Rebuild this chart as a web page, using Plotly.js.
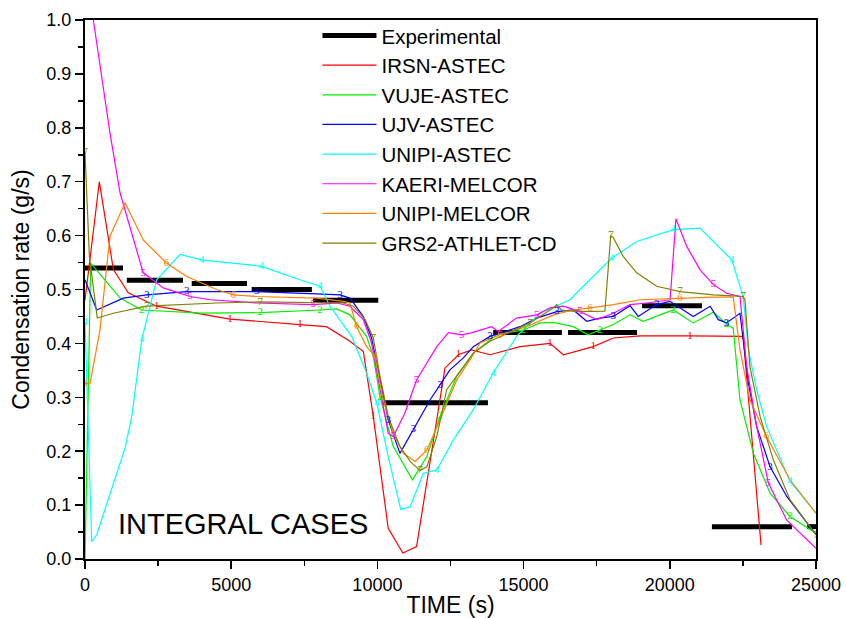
<!DOCTYPE html>
<html>
<head>
<meta charset="utf-8">
<script src="https://cdn.plot.ly/plotly-3.0.1.min.js"></script>
<style>html,body{margin:0;padding:0;background:#fff;}#chart{width:846px;height:618px;}</style>
</head>
<body>
<div id="chart"></div>
<script>
// ---- Experimental (stepwise averaged data, segments separated by null) ----
const timeExp = [0,1300,null,1430,3350,null,3650,5540,null,5700,7760,null,7800,10030,null,10200,13780,null,13960,16310,null,16520,18880,null,19050,21100,null,21440,24180,null,24700,25000];
const rateExp = [0.54,0.54,null,0.517,0.517,null,0.511,0.511,null,0.50,0.50,null,0.48,0.48,null,0.29,0.29,null,0.42,0.42,null,0.42,0.42,null,0.47,0.47,null,0.06,0.06,null,0.06,0.06];

// ---- 1 IRSN-ASTEC ----
const time1 = [0,490,970,1480,2450,4960,7350,8260,9060,9520,9860,10370,10870,11340,12310,12770,13220,13850,14880,15900,16360,17380,18070,18980,20690,22510,23120];
const rate1 = [0.48,0.70,0.537,0.494,0.469,0.445,0.435,0.431,0.404,0.385,0.264,0.057,0.011,0.023,0.354,0.379,0.388,0.379,0.394,0.40,0.379,0.394,0.41,0.414,0.414,0.413,0.026];
// ---- 2 VUJE-ASTEC ----
const time2 = [0,195,1200,1940,3990,5990,8040,8610,9060,9230,9630,9860,10090,10540,11200,11690,12140,12710,13280,14080,15000,15560,16020,16700,17210,17610,18070,18640,19090,19660,20120,20800,21490,21940,22170,22400,22860,23430,24110,25000];
const rate2 = [0.0,0.549,0.484,0.462,0.456,0.457,0.462,0.464,0.453,0.441,0.413,0.376,0.301,0.209,0.147,0.19,0.264,0.339,0.382,0.416,0.425,0.438,0.439,0.431,0.416,0.425,0.435,0.453,0.441,0.453,0.462,0.438,0.458,0.436,0.428,0.295,0.196,0.122,0.079,0.048];
// ---- 3 UJV-ASTEC ----
const time3 = [0,400,1310,2110,3480,4500,5870,7920,8720,9060,9520,9800,10090,10370,10770,11230,11800,12140,12480,12940,13280,13850,14190,14880,15450,16130,16700,17160,17610,18070,18640,18920,19550,20010,20800,21380,21660,21940,22400,22690,22970,23430,24000,25000];
const rate3 = [0.518,0.462,0.484,0.49,0.496,0.496,0.496,0.492,0.49,0.484,0.45,0.41,0.332,0.258,0.196,0.24,0.295,0.323,0.351,0.373,0.394,0.413,0.419,0.431,0.447,0.459,0.462,0.441,0.447,0.45,0.47,0.45,0.472,0.478,0.45,0.469,0.444,0.438,0.456,0.326,0.246,0.171,0.116,0.045];
// ---- 4 UNIPI-ASTEC ----
const time4 = [0,230,400,1370,1600,1940,2450,3250,3990,6040,7350,8040,8380,9120,9630,9980,10370,10800,11120,11570,12030,12600,13280,13960,14760,15560,16590,16930,18010,18870,20120,21030,22120,22340,22510,22690,22970,23310,24110,25000];
const rate4 = [0.44,0.032,0.045,0.206,0.264,0.407,0.518,0.565,0.555,0.543,0.518,0.506,0.469,0.413,0.345,0.289,0.19,0.092,0.097,0.159,0.165,0.221,0.277,0.345,0.413,0.456,0.481,0.5,0.558,0.589,0.611,0.614,0.555,0.518,0.487,0.388,0.314,0.246,0.144,0.085];
// ---- 5 KAERI-MELCOR ----
const time5 = [285,513,855,1200,1540,1990,2680,3590,4280,5870,7810,8610,9060,9520,9800,10090,10370,10540,10940,11340,12030,12430,12880,13170,13910,14130,14760,15450,15900,16360,16930,17500,18070,18640,19210,20010,20210,20580,21030,21490,21940,22400,22630,22970,23370,24000,25000];
const rate5 = [1.0,0.914,0.79,0.679,0.617,0.531,0.503,0.487,0.481,0.475,0.472,0.475,0.469,0.444,0.401,0.314,0.233,0.227,0.271,0.332,0.394,0.42,0.416,0.419,0.431,0.422,0.447,0.453,0.466,0.469,0.459,0.444,0.456,0.472,0.475,0.481,0.631,0.58,0.537,0.509,0.493,0.487,0.357,0.246,0.141,0.072,0.02];
// ---- 6 UNIPI-MELCOR ----
const time6 = [0,170,513,855,1370,1990,2790,3480,4500,5070,5870,7920,8830,9060,9290,9630,9920,10200,10540,10890,11290,11690,12140,12710,13170,13510,14190,15100,16020,16700,17270,18070,18980,20350,21490,22170,22400,22740,23310,24110,25000];
const rate6 = [0.326,0.325,0.425,0.599,0.661,0.592,0.549,0.524,0.5,0.49,0.487,0.484,0.478,0.475,0.431,0.394,0.376,0.295,0.233,0.196,0.181,0.202,0.258,0.332,0.37,0.401,0.416,0.431,0.453,0.462,0.466,0.472,0.481,0.484,0.486,0.486,0.388,0.295,0.227,0.147,0.085];
// ---- 7 GRS2-ATHLET-CD ----
const time7 = [0,150,420,970,2110,4500,5990,8040,8830,9180,9580,9860,10090,10370,10770,11120,11460,11690,12030,12370,12940,13280,13850,15220,16020,16130,16300,16820,17780,17980,18070,18410,18870,19550,20350,21490,22170,22510,22570,22740,23090,23540,24110,25000];
const rate7 = [0.755,0.561,0.447,0.456,0.469,0.475,0.477,0.475,0.475,0.469,0.444,0.41,0.339,0.264,0.209,0.181,0.164,0.171,0.227,0.314,0.357,0.382,0.404,0.438,0.466,0.472,0.462,0.459,0.46,0.6,0.596,0.561,0.531,0.506,0.496,0.49,0.488,0.487,0.481,0.357,0.264,0.184,0.11,0.045];

// indices of points that carry the curve number label
const labelIdx1 = [4,5,6,10,15,19,21,24,25];
const labelIdx2 = [3,5,6,12,16,20,25,30,33,38];
const labelIdx3 = [3,4,6,8,13,15,17,21,25,29,32,37,41];
const labelIdx4 = [0,5,8,9,11,15,20,23,28,30,32,38];
const labelIdx5 = [5,7,10,17,19,22,27,30,39,44];
const labelIdx6 = [0,6,9,14,16,21,26,30,33,38];
const labelIdx7 = [0,4,6,11,16,23,29,34,37,43];

const seriesNames = ['IRSN-ASTEC','VUJE-ASTEC','UJV-ASTEC','UNIPI-ASTEC','KAERI-MELCOR','UNIPI-MELCOR','GRS2-ATHLET-CD'];
const seriesColors = ['#FF0000','#00EE00','#0000FF','#00FFFF','#FF00FF','#FF8000','#808000'];
const seriesTime = [time1,time2,time3,time4,time5,time6,time7];
const seriesRate = [rate1,rate2,rate3,rate4,rate5,rate6,rate7];
const seriesLabelIdx = [labelIdx1,labelIdx2,labelIdx3,labelIdx4,labelIdx5,labelIdx6,labelIdx7];

const traces = [{
  x: timeExp, y: rateExp, name: 'Experimental', type: 'scatter', mode: 'lines',
  line: {color: '#000000', width: 5}, connectgaps: false
}];
seriesNames.forEach((nm, k) => {
  traces.push({
    x: seriesTime[k], y: seriesRate[k], name: nm, type: 'scatter', mode: 'lines',
    line: {color: seriesColors[k], width: 1.2}
  });
});
seriesNames.forEach((nm, k) => {
  const idx = seriesLabelIdx[k];
  traces.push({
    x: idx.map(i => seriesTime[k][i]), y: idx.map(i => seriesRate[k][i]),
    text: idx.map(() => String(k + 1)), type: 'scatter', mode: 'text',
    textposition: 'middle center', showlegend: false, hoverinfo: 'skip',
    textfont: {family: 'Liberation Serif, serif', size: 11, color: seriesColors[k]}
  });
});

const layout = {
  width: 846, height: 618,
  margin: {l: 85, r: 30, t: 20, b: 59},
  paper_bgcolor: '#ffffff', plot_bgcolor: '#ffffff',
  font: {family: 'Liberation Sans, Arial, sans-serif', color: '#000'},
  showlegend: true,
  legend: {
    x: 0.318, xanchor: 'left', y: 1.008, yanchor: 'top',
    bgcolor: 'rgba(255,255,255,0)', borderwidth: 0,
    font: {size: 20.5, color: '#000'}, itemwidth: 54, tracegroupgap: 0
  },
  xaxis: {
    range: [0, 25000], tickvals: [0,5000,10000,15000,20000,25000], tickformat: 'd',
    ticks: 'outside', ticklen: 8, tickwidth: 1.5, tickcolor: '#000',
    minor: {dtick: 2500, ticks: 'outside', ticklen: 5, tickwidth: 1.5, tickcolor: '#000'},
    showline: true, linecolor: '#000', linewidth: 2, mirror: true,
    showgrid: false, zeroline: false,
    tickfont: {size: 18, color: '#000'},
    title: {text: 'TIME (s)', font: {size: 23, color: '#000'}, standoff: 4}
  },
  yaxis: {
    range: [0, 1.0], dtick: 0.1, tickformat: '.1f',
    ticks: 'outside', ticklen: 8, tickwidth: 1.5, tickcolor: '#000',
    minor: {dtick: 0.05, ticks: 'outside', ticklen: 5, tickwidth: 1.5, tickcolor: '#000'},
    showline: true, linecolor: '#000', linewidth: 2, mirror: true,
    showgrid: false, zeroline: false,
    tickfont: {size: 18, color: '#000'},
    title: {text: 'Condensation rate (g/s)', font: {size: 23, color: '#000'}, standoff: 10}
  },
  annotations: [{
    text: 'INTEGRAL CASES', xref: 'paper', yref: 'paper', x: 0.216, y: 0.065,
    xanchor: 'center', yanchor: 'middle', showarrow: false,
    font: {size: 29, color: '#000'}
  }]
};

Plotly.newPlot('chart', traces, layout, {displayModeBar: false, staticPlot: true});
</script>
</body>
</html>
